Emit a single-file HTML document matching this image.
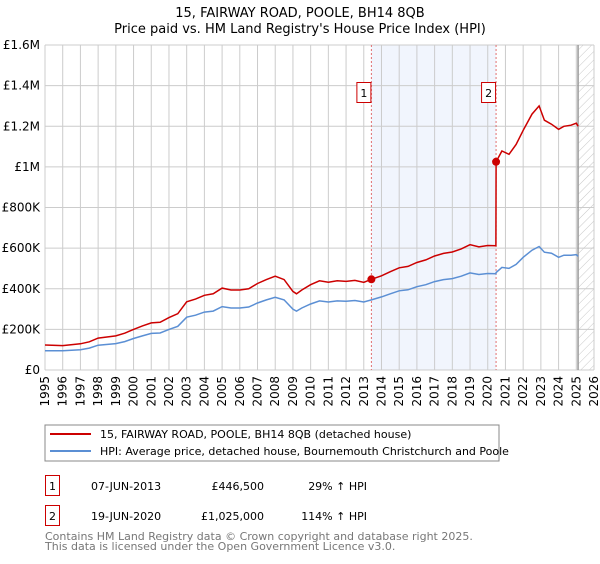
<!DOCTYPE html>
<html><head><meta charset="utf-8">
<style>
body{margin:0;background:#fff;font-family:"DejaVu Sans","Liberation Sans",sans-serif;}
svg text{font-family:"DejaVu Sans","Liberation Sans",sans-serif;}
</style></head>
<body>
<svg id="c" width="600" height="560" viewBox="0 0 600 560">
<defs>
<pattern id="hatch" width="6" height="6" patternUnits="userSpaceOnUse" patternTransform="rotate(45)">
<line x1="0" y1="0" x2="0" y2="6" stroke="#c8c8c8" stroke-width="1"/>
</pattern>
</defs>
<text x="300" y="17" text-anchor="middle" font-size="13" fill="#000">15, FAIRWAY ROAD, POOLE, BH14 8QB</text>
<text x="300" y="33" text-anchor="middle" font-size="13" fill="#000">Price paid vs. HM Land Registry's House Price Index (HPI)</text>
<g id="grid"></g>
<g id="marks"></g>
<g id="axes"></g>
<rect x="45" y="425" width="454" height="36" fill="#fff" stroke="#888"/>
<line x1="50" y1="434" x2="91" y2="434" stroke="#cc0000" stroke-width="2"/>
<text x="100" y="438" font-size="11">15, FAIRWAY ROAD, POOLE, BH14 8QB (detached house)</text>
<line x1="50" y1="451" x2="91" y2="451" stroke="#5b8fd4" stroke-width="2"/>
<text x="100" y="455" font-size="11">HPI: Average price, detached house, Bournemouth Christchurch and Poole</text>
<rect x="45.5" y="475.5" width="14" height="20" fill="none" stroke="#cc0000"/>
<text x="52.5" y="490" font-size="11" text-anchor="middle">1</text>
<text x="91" y="490" font-size="11">07-JUN-2013</text>
<text x="264" y="490" font-size="11" text-anchor="end">£446,500</text>
<text x="367" y="490" font-size="11" text-anchor="end">29% ↑ HPI</text>
<rect x="45.5" y="505.5" width="14" height="20" fill="none" stroke="#cc0000"/>
<text x="52.5" y="520" font-size="11" text-anchor="middle">2</text>
<text x="91" y="520" font-size="11">19-JUN-2020</text>
<text x="264" y="520" font-size="11" text-anchor="end">£1,025,000</text>
<text x="367" y="520" font-size="11" text-anchor="end">114% ↑ HPI</text>
<text x="45" y="540" font-size="11" fill="#777">Contains HM Land Registry data © Crown copyright and database right 2025.</text>
<text x="45" y="550" font-size="11" fill="#777">This data is licensed under the Open Government Licence v3.0.</text>
</svg>
<script>
const yearTicks=[1995,1996,1997,1998,1999,2000,2001,2002,2003,2004,2005,2006,2007,2008,2009,2010,2011,2012,2013,2014,2015,2016,2017,2018,2019,2020,2021,2022,2023,2024,2025,2026];
const valueTicks=[0,200000,400000,600000,800000,1000000,1200000,1400000,1600000];
const valueTickLabels=["£0","£200K","£400K","£600K","£800K","£1M","£1.2M","£1.4M","£1.6M"];
const hpiYears=[1995,1996,1997,1997.5,1998,1999,1999.5,2000,2000.5,2001,2001.5,2002,2002.5,2003,2003.5,2004,2004.5,2005,2005.5,2006,2006.5,2007,2007.5,2008,2008.5,2009,2009.2,2009.5,2010,2010.5,2011,2011.5,2012,2012.5,2013,2013.43,2014,2014.5,2015,2015.5,2016,2016.5,2017,2017.5,2018,2018.5,2019,2019.5,2020,2020.46,2020.47,2020.8,2021.2,2021.6,2022,2022.5,2022.9,2023.2,2023.6,2024,2024.3,2024.7,2025,2025.1];
const hpiValues=[95,95,100,108,122,130,140,155,168,180,182,200,215,260,270,285,290,312,305,305,310,330,345,358,345,300,290,305,325,340,335,340,338,342,335,345,360,375,390,395,410,420,435,445,450,462,478,470,475,474,480,505,500,520,555,590,608,580,575,555,565,565,568,560];
const priceValues=[123,120,129,139,157,168,181,200,217,232,235,258,277,336,349,368,375,403,394,394,400,426,445,462,445,387,375,394,420,439,432,439,436,441,432,446.5,464,484,503,510,529,542,561,574,581,596,617,606,613,612,1025,1078,1062,1110,1180,1260,1300,1230,1210,1185,1200,1205,1215,1200];
const saleYears=[2013.43,2020.47];
const saleValues=[446500,1025000];
const saleLabels=["1","2"];

const X0=45,X1=594,Y0=370,Y1=45;
const xs=y=>X0+(y-1995)/(2026-1995)*(X1-X0);
const ys=v=>Y0-v/1600000*(Y0-Y1);
const NS="http://www.w3.org/2000/svg";
function mk(tag,attrs,parent){const e=document.createElementNS(NS,tag);for(const k in attrs)e.setAttribute(k,attrs[k]);parent.appendChild(e);return e;}
const grid=document.getElementById('grid'),marks=document.getElementById('marks'),axes=document.getElementById('axes');

// shaded ownership band
let band=mk('rect',{x:xs(saleYears[0]),y:Y1,width:xs(saleYears[1])-xs(saleYears[0]),height:Y0-Y1,fill:'#eef3fc',opacity:0.8},grid);


// hatched future
let hx=xs(2025.1);
let hatch=mk('rect',{x:hx,y:Y1,width:X1-hx,height:Y0-Y1,fill:'url(#hatch)'},grid);



yearTicks.forEach(y=>{
  const x=xs(y);
  const l=mk('line',{x1:x,y1:Y1,x2:x,y2:Y0,stroke:'#cccccc','stroke-width':1},grid);
  
  
  const t=mk('text',{x:0,y:0,'font-size':12,'text-anchor':'end',transform:`translate(${x+4},376) rotate(-90)`},axes);
  t.textContent=y;
  
  
});
valueTicks.forEach((v,i)=>{
  const y=ys(v);
  const l=mk('line',{x1:X0,y1:y,x2:X1,y2:y,stroke:'#cccccc','stroke-width':1},grid);
  
  
  const t=mk('text',{x:40,y:y+4,'font-size':12,'text-anchor':'end'},axes);
  t.textContent=valueTickLabels[i];
  
  
});
let vline=mk('line',{x1:hx,y1:Y1,x2:hx,y2:Y0,stroke:'#999','stroke-width':1.5},grid);



saleYears.forEach((s,i)=>{
  const x=xs(s);
  const l=mk('line',{x1:x,y1:Y1,x2:x,y2:Y0,stroke:'#e07070','stroke-width':1,'stroke-dasharray':'2,2'},marks);
  
  
});

const hpiPts=hpiYears.map((y,i)=>xs(y).toFixed(1)+','+ys(hpiValues[i]*1000).toFixed(1)).join(' ');
let hp=mk('polyline',{points:hpiPts,fill:'none',stroke:'#5b8fd4','stroke-width':1.5},marks);


const prPts=hpiYears.map((y,i)=>xs(y).toFixed(1)+','+ys(priceValues[i]*1000).toFixed(1)).join(' ');
let pr=mk('polyline',{points:prPts,fill:'none',stroke:'#cc0000','stroke-width':1.5},marks);



saleYears.forEach((s,i)=>{
  const x=xs(s),y=ys(saleValues[i]);
  const c=mk('circle',{cx:x,cy:y,r:4,fill:'#cc0000'},marks);
  
  
  const r=mk('rect',{x:x-14.5,y:82.5,width:14,height:20,fill:'#fff',stroke:'#cc0000'},marks);
  
  
  const t=mk('text',{x:x-7.5,y:97,'font-size':11,'text-anchor':'middle'},marks);
  t.textContent=saleLabels[i];
  
  
});
</script>
</body></html>
